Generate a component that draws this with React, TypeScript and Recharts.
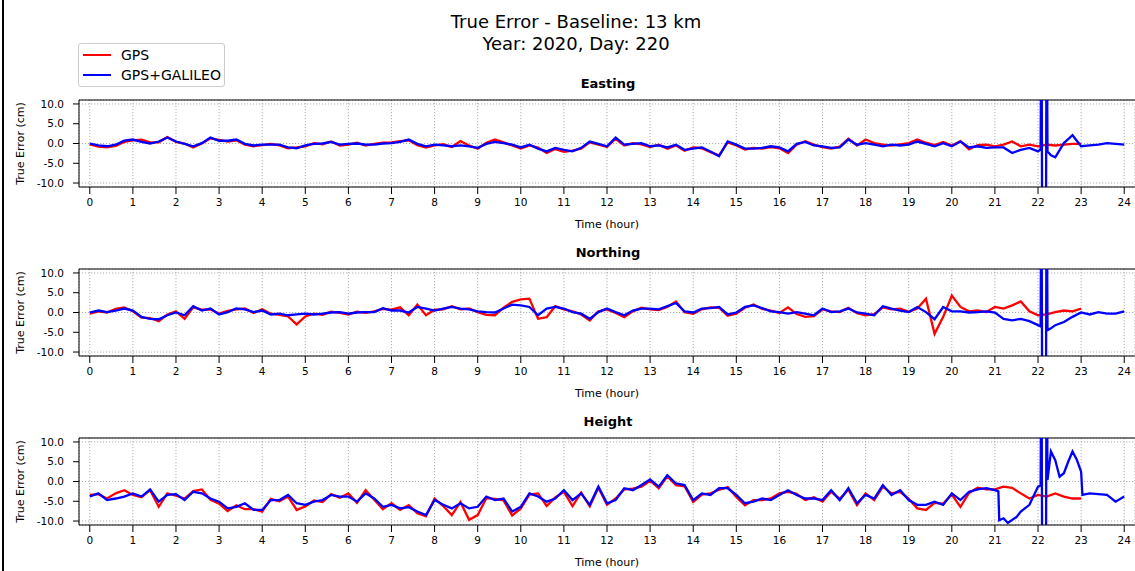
import { LineChart, Line, XAxis, YAxis, CartesianGrid, ReferenceLine } from 'recharts';

// time axis (hours) and y ticks
const hourTicks = [0, 1, 2, 3, 4, 5, 6, 7, 8, 9, 10, 11, 12, 13, 14, 15, 16, 17, 18, 19, 20, 21, 22, 23, 24];
const errorTicks = [-10, -5, 0, 5, 10];
const STEP = 0.2; // hours between samples

// Easting (cm), one row per hour
const gpsEasting = [
  -0.2, -0.8, -1.0, -0.6, 0.4,
  0.8, 1.0, 0.3, 0.3, 1.6,
  0.4, 0, -1.0, 0, 1.3,
  0.9, 0.5, 0.8, -0.3, -0.7,
  -0.4, -0.1, -0.5, -1.2, -1.0,
  -0.7, 0.1, -0.2, 0.5, -0.5,
  -0.3, 0.2, -0.5, -0.1, 0.2,
  0.3, 0.6, 0.8, -0.4, -1.0,
  -0.5, -0.2, -0.9, 0.6, -0.5,
  -1.3, 0.2, 1.0, 0.3, -0.5,
  -1.3, -0.5, -1.0, -2.4, -1.4,
  -2.1, -1.8, -1.3, 0.3, -0.3,
  -0.9, 1.2, -0.5, 0.1, -0.2,
  -0.9, -0.3, -1.3, -0.5, -1.8,
  -1.0, -1.2, -2.2, -3.0, 0.3,
  -0.5, -1.5, -1.1, -1.3, -0.9,
  -1.2, -2.4, -0.3, 0.6, -0.3,
  -0.9, -1.3, -0.8, 1.2, -0.5,
  1.0, 0.1, -0.3, -0.5, -0.2,
  0.1, 1.0, 0.2, -0.4, 0.4,
  -0.5, 0.6, -1.5, -0.4, -0.3,
  -0.7, -0.3, 0.5, -0.7, -0.3,
  -0.7, -0.3, -0.5, -0.3, -0.1,
  -0.1,
];
const galEasting = [
  0, -0.5, -0.7, -0.3, 0.7,
  1.0, 0.4, 0, 0.5, 1.5,
  0.5, -0.1, -0.7, 0.1, 1.5,
  0.7, 0.7, 1.0, -0.1, -0.5,
  -0.3, -0.3, -0.3, -1.0, -1.2,
  -0.5, -0.1, 0, 0.4, -0.3,
  -0.1, 0, -0.3, -0.3, 0,
  0.1, 0.4, 1.0, -0.1, -0.7,
  -0.3, -0.5, -0.7, -0.5, -0.7,
  -1.1, -0.1, 0.4, 0.1, -0.3,
  -1.0, -0.3, -1.3, -2.0, -1.1,
  -1.6, -2.0, -1.1, 0.5, -0.1,
  -0.7, 1.5, -0.3, -0.1, 0.1,
  -0.7, -0.5, -1.0, -0.3, -1.6,
  -1.3, -1.0, -2.0, -3.2, 0.5,
  -0.3, -1.3, -1.3, -1.1, -0.7,
  -1.0, -2.0, -0.1, 0.4, -0.5,
  -0.7, -1.1, -1.0, 1.0, -0.3,
  0.1, -0.3, -0.7, -0.3, -0.5,
  -0.3, 0.5, -0.1, -0.7, 0.1,
  -0.7, 0.5, -1.0, -0.7, -1.1,
  -1.0, -1.0, -2.4, -1.6, -1.1,
  -2.0, 40, -3.5, 0.1, 2.1,
  -0.7, -0.5, -0.3, 0.1, -0.1,
  -0.3,
];
const galEastingSpike: [number, number][] = [
  [22.06, -1.5], [22.08, 40], [22.1, -40], [22.18, -40], [22.22, -2.0], [22.3, -3.0],
];

// Northing (cm)
const gpsNorthing = [
  -0.3, 0.3, 0.0, 0.9, 1.3,
  0.3, -1.3, -1.4, -2.2, -0.5,
  0.3, -1.6, 1.3, 0.7, 0.8,
  -0.3, 0.4, 0.8, 1.0, -0.1,
  0.8, -0.3, -0.6, -1.0, -3.0,
  -1.0, -0.3, -0.6, 0.2, -0.1,
  -0.5, 0.2, -0.1, 0.3, 0.9,
  0.7, 1.3, -0.7, 2.0, -0.7,
  0.7, 0.8, 1.6, 0.8, 1.0,
  0.1, -0.6, -0.7, 1.2, 2.7,
  3.3, 3.5, -1.6, -1.2, 1.6,
  0.8, 0.3, -0.5, -2.0, 0.3,
  0.8, -0.1, -1.2, 0.3, 1.2,
  0.8, 0.6, 1.4, 2.8, 0.1,
  -0.3, 0.8, 1.3, 1.2, -0.8,
  -0.3, 1.2, 2.0, 0.9, 0.5,
  -0.1, 1.3, -0.4, -1.1, -0.9,
  0.8, 0.3, 0.1, 1.2, -0.2,
  -0.7, -0.4, 1.3, 0.8, 1.0,
  0.2, 1.0, 3.5, -5.4, -1.1,
  4.3, 1.4, 0.3, 0.5, 0.1,
  1.4, 1.0, 1.8, 2.8, 0.3,
  -0.7, -0.5, 0.1, 0.5, 0.3,
  1.0,
];
const galNorthing = [
  0, 0.5, 0.1, 0.5, 1.0,
  0.5, -1.1, -1.6, -1.7, -0.7,
  0, -0.7, 1.6, 0.5, 1.0,
  -0.5, 0.1, 1.0, 0.8, 0.1,
  0.5, -0.5, -0.3, -0.7, -0.5,
  -0.3, -0.5, -0.3, 0, 0.1,
  -0.3, 0, 0.1, 0.1, 1.1,
  0.5, 0.5, 0, 1.4, 1.0,
  0.5, 1.0, 1.4, 1.0, 0.8,
  0.3, 0.1, 0, 1.0, 2.0,
  1.8, 1.4, -0.7, 1.0, 1.4,
  1.0, 0.1, -0.3, -1.6, 0.1,
  1.0, 0.1, -0.7, 0.5, 1.0,
  1.0, 0.8, 1.6, 2.4, 0.3,
  0, 1.0, 1.1, 1.4, -0.5,
  0, 1.4, 1.8, 1.1, 0.3,
  0.1, -0.3, 0.1, -0.3, -0.7,
  1.0, 0.1, 0.3, 1.0, 0,
  -0.3, -0.7, 1.6, 1.0, 0.5,
  0.1, 1.4, 0.1, -1.7, 1.4,
  0.3, 0.3, 0, 0.1, 0.3,
  0, -1.6, -2.0, -1.6, -2.2,
  -3.2, 40, -3.2, -2.4, -1.1,
  0, -0.5, 0.1, -0.3, -0.3,
  0.3,
];
const galNorthingSpike: [number, number][] = [
  [22.06, -3.5], [22.08, 40], [22.1, -40], [22.18, -40], [22.22, -4.5], [22.3, -4.0],
];

// Height (cm)
const gpsHeight = [
  -3.4, -3.2, -4.3, -3.0, -2.2,
  -3.4, -4.0, -2.2, -6.4, -3.0,
  -3.6, -4.3, -2.4, -2.0, -4.6,
  -5.6, -7.5, -6.0, -7.0, -7.0,
  -7.6, -4.4, -5.0, -3.8, -7.2,
  -6.3, -4.8, -5.2, -3.2, -4.1,
  -3.0, -5.4, -2.2, -4.6, -7.0,
  -5.5, -7.2, -6.0, -8.0, -8.8,
  -4.3, -6.2, -8.5, -5.2, -9.7,
  -8.5, -4.2, -4.4, -4.8, -8.6,
  -6.8, -3.3, -3.0, -6.2, -4.0,
  -2.6, -6.2, -2.8, -6.3, -1.6,
  -5.9, -4.3, -2.0, -1.8, -1.3,
  0.2, -1.7, 1.3, -0.9, -1.2,
  -5.2, -3.3, -3.0, -2.1, -1.4,
  -3.9, -6.0, -4.7, -4.7, -4.3,
  -3.0, -2.6, -3.1, -4.7, -4.0,
  -5.1, -2.6, -4.4, -2.1, -6.0,
  -3.0, -4.7, -1.3, -3.0, -2.6,
  -4.4, -6.8, -7.2, -5.4, -5.6,
  -3.3, -6.4, -2.9, -1.6, -2.0,
  -2.0, -1.3, -1.6, -3.0, -4.3,
  -3.4, -3.8, -3.0, -3.8, -4.3,
  -4.3,
];
const galHeight = [
  -3.8, -3.0, -4.7, -4.3, -3.8,
  -3.0, -3.8, -2.0, -5.1, -3.4,
  -3.2, -4.7, -2.6, -3.0, -4.3,
  -5.1, -6.8, -6.4, -5.5, -7.2,
  -7.2, -4.7, -4.7, -3.4, -5.5,
  -5.9, -5.1, -4.7, -3.4, -3.8,
  -3.8, -5.1, -3.0, -4.3, -6.4,
  -5.9, -6.8, -6.5, -7.6, -8.5,
  -4.7, -5.9, -6.8, -5.5, -6.8,
  -6.4, -3.8, -4.7, -4.3, -7.6,
  -6.4, -3.0, -3.8, -5.1, -4.3,
  -2.2, -4.7, -3.0, -5.9, -1.3,
  -5.5, -4.7, -1.7, -2.2, -0.9,
  0.5, -1.3, 1.6, -0.5, -0.9,
  -4.7, -3.0, -3.4, -1.7, -1.7,
  -3.4, -5.5, -5.1, -4.3, -4.7,
  -3.4, -2.2, -3.4, -4.3, -4.3,
  -4.7, -2.2, -4.7, -1.7, -5.5,
  -3.4, -4.3, -0.9, -3.4, -2.2,
  -4.7, -5.9, -5.9, -5.1, -5.9,
  -3.0, -4.7, -2.6, -2.0, -1.7,
  -2.2, -9.3, -9.7, -7.6, -5.9,
  -1.3, 40, 5.4, 2.1, 7.6,
  2.5, -3.0, -3.2, -3.4, -5.1,
  -3.8,
];
const galHeightSpike: [number, number][] = [
  [21.08, -2.5], [21.1, -9.8], [21.3, -10.5], [21.5, -9.0],
  [22.06, -1.0], [22.08, 40], [22.1, -40], [22.18, -40], [22.22, 0.4], [22.3, 7.6],
  [22.5, 1.2], [22.7, 5.0], [22.9, 5.5], [23.03, -3.4],
];

type Row = { t: number; v: number };
const toRows = (vals: number[], extra: [number, number][] = []): Row[] =>
  [
    ...vals.map((v, i) => ({ t: Math.round(i * STEP * 100) / 100, v })),
    ...extra.map(([t, v]) => ({ t, v })),
  ].sort((a, b) => a.t - b.t);

const FONT = '"DejaVu Sans", sans-serif';
const PLOT_H = 87;
const TOP_PAD = 10;

const YLabel = () => (
  <text
    x={20}
    y={TOP_PAD + PLOT_H / 2}
    transform={`rotate(-90 20 ${TOP_PAD + PLOT_H / 2})`}
    textAnchor="middle"
    dominantBaseline="central"
    fontSize={11}
    fill="#000"
    fontFamily={FONT}
  >
    True Error (cm)
  </text>
);

function Panel({ title, plotTop, gps, gal }: { title: string; plotTop: number; gps: Row[]; gal: Row[] }) {
  return (
    <>
      <div
        style={{
          position: 'absolute', left: 79, width: 1058, top: plotTop - 24, lineHeight: '16px',
          textAlign: 'center', fontWeight: 'bold', fontSize: 13, color: '#000',
        }}
      >
        {title}
      </div>
      <div style={{ position: 'absolute', left: 0, top: plotTop - TOP_PAD }}>
        <LineChart width={1135} height={TOP_PAD + PLOT_H + 45} margin={{ top: TOP_PAD, right: 0, bottom: 0, left: 0 }}>
          <CartesianGrid stroke="#9a9a9a" strokeDasharray="1.2 1.8" strokeWidth={0.8} />
          <XAxis
            type="number"
            dataKey="t"
            domain={[-0.25, 24.25]}
            ticks={hourTicks}
            interval={0}
            height={45}
            tickSize={7}
            tickMargin={5}
            stroke="#000"
            tick={{ fontSize: 10.5, fill: '#000', fontFamily: FONT }}
            label={{ value: 'Time (hour)', position: 'insideBottom', offset: 4, fontSize: 11, fill: '#000', fontFamily: FONT }}
          />
          <YAxis
            type="number"
            domain={[-11, 11]}
            ticks={errorTicks}
            allowDataOverflow
            width={79}
            tickSize={6}
            tickMargin={9}
            stroke="#000"
            tickFormatter={(v: number) => v.toFixed(1)}
            tick={{ fontSize: 10.5, fill: '#000', fontFamily: FONT }}
            label={<YLabel />}
          />
          <ReferenceLine y={11} stroke="#000" strokeWidth={1.2} />
          <Line data={gps} dataKey="v" stroke="#ff0000" strokeWidth={2.3} dot={false} isAnimationActive={false} type="linear" />
          <Line data={gal} dataKey="v" stroke="#0000ff" strokeWidth={2.3} dot={false} isAnimationActive={false} type="linear" />
        </LineChart>
      </div>
    </>
  );
}

export default function App() {
  return (
    <div style={{ position: 'absolute', left: 0, top: 0, width: 1135, height: 571, background: '#fff', fontFamily: FONT, overflow: 'hidden' }}>
      <div style={{ position: 'absolute', left: 2, top: 0, width: 2, height: 571, background: '#000' }} />
      <div style={{ position: 'absolute', left: 376, width: 400, top: 11, textAlign: 'center', fontSize: 18, lineHeight: '22px', color: '#000' }}>
        <div>True Error - Baseline: 13 km</div>
        <div>Year: 2020, Day: 220</div>
      </div>
      <div
        style={{
          position: 'absolute', left: 78, top: 43, width: 147, height: 44, boxSizing: 'border-box',
          border: '1px solid #cccccc', borderRadius: 3, background: '#fff', zIndex: 2, fontSize: 14,
        }}
      >
        <div style={{ position: 'absolute', left: 4, top: 10, width: 28, height: 2, background: '#ff0000' }} />
        <div style={{ position: 'absolute', left: 42, top: 2, lineHeight: '18px' }}>GPS</div>
        <div style={{ position: 'absolute', left: 4, top: 30, width: 28, height: 2, background: '#0000ff' }} />
        <div style={{ position: 'absolute', left: 42, top: 22, lineHeight: '18px' }}>GPS+GALILEO</div>
      </div>
      <Panel title="Easting" plotTop={100} gps={toRows(gpsEasting)} gal={toRows(galEasting, galEastingSpike)} />
      <Panel title="Northing" plotTop={269} gps={toRows(gpsNorthing)} gal={toRows(galNorthing, galNorthingSpike)} />
      <Panel title="Height" plotTop={438} gps={toRows(gpsHeight)} gal={toRows(galHeight, galHeightSpike)} />
    </div>
  );
}
